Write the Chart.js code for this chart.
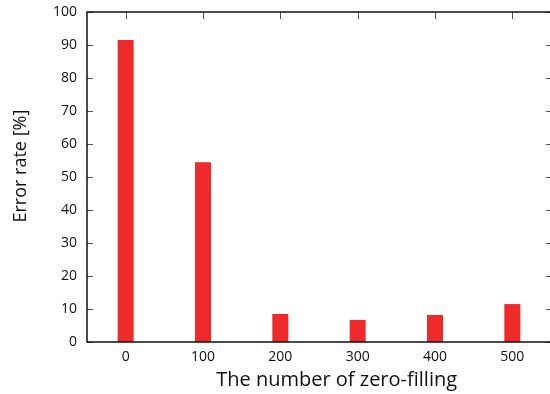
<!DOCTYPE html>
<html>
<head>
<meta charset="utf-8">
<script src="https://cdn.jsdelivr.net/npm/chart.js@4/dist/chart.umd.min.js"></script>
<style>
  html, body { margin: 0; padding: 0; background: #fff; overflow: hidden; width: 550px; height: 394px; }
  #wrap { width: 552px; height: 394px; }
</style>
</head>
<body>
<div id="wrap"><canvas id="chart"></canvas></div>
<script>
  // data
  const zeroFilling = ["0", "100", "200", "300", "400", "500"];
  const errorRate = [91.5, 54.5, 8.5, 6.7, 8.2, 11.5];
  const yMin = 0, yMax = 100, yStep = 10;
  const xTitle = "The number of zero-filling";
  const yTitle = "Error rate [%]";

  const FONT = '"Open Sans", "DejaVu Sans", sans-serif';

  // gnuplot-like frame with inward ticks and axis titles
  const framePlugin = {
    id: "frame",
    afterDraw(chart) {
      const { ctx, chartArea: a, scales: { x, y } } = chart;
      ctx.save();

      // small ticks
      ctx.strokeStyle = "#555";
      ctx.lineWidth = 1;
      ctx.beginPath();
      y.ticks.forEach((t) => {
        const py = Math.round(y.getPixelForValue(t.value)) + 0.5;
        ctx.moveTo(a.left, py);
        ctx.lineTo(a.left + 6, py);
        ctx.moveTo(a.right - 5, py);
        ctx.lineTo(a.right, py);
      });
      x.ticks.forEach((t, i) => {
        const px = Math.round(x.getPixelForTick(i)) + 0.5;
        ctx.moveTo(px, a.top);
        ctx.lineTo(px, a.top + 7);
      });
      ctx.stroke();

      // border
      ctx.strokeStyle = "#111";
      ctx.lineWidth = 1.5;
      ctx.beginPath();
      ctx.moveTo(a.left, a.top);
      ctx.lineTo(a.right, a.top);
      ctx.lineTo(a.right, a.bottom);
      ctx.lineTo(a.left, a.bottom);
      ctx.closePath();
      ctx.stroke();

      // axis titles
      ctx.fillStyle = "#111";
      ctx.textAlign = "center";
      ctx.textBaseline = "middle";
      ctx.font = "20px " + FONT;
      ctx.fillText(xTitle, a.left + (a.right - a.left) * 0.538, a.bottom + 38);

      ctx.translate(21, a.top + (a.bottom - a.top) * 0.467);
      ctx.rotate(-Math.PI / 2);
      ctx.font = "18px " + FONT;
      ctx.fillText(yTitle, 0, 0);
      ctx.restore();
    }
  };

  new Chart(document.getElementById("chart"), {
    type: "bar",
    data: {
      labels: zeroFilling,
      datasets: [
        {
          label: "Error rate",
          data: errorRate,
          backgroundColor: "rgb(238, 42, 42)",
          borderWidth: 0,
          barPercentage: 0.207,
          categoryPercentage: 1.0,
        },
      ],
    },
    options: {
      responsive: true,
      maintainAspectRatio: false,
      animation: false,
      layout: { padding: { top: 12, right: 1, left: 0, bottom: 0 } },
      plugins: {
        legend: { display: false },
        tooltip: { enabled: false },
      },
      scales: {
        x: {
          grid: { display: false, drawTicks: false },
          border: { display: false },
          ticks: {
            color: "#111",
            padding: 7,
            font: { family: FONT, size: 14 },
            maxRotation: 0,
          },
          afterFit: (scale) => {
            scale.height = 52;
            scale.paddingLeft = 0;
            scale.paddingRight = 0;
          },
        },
        y: {
          min: yMin,
          max: yMax,
          grid: { display: false, drawTicks: false },
          border: { display: false },
          ticks: {
            stepSize: yStep,
            color: "#111",
            padding: 10,
            font: { family: FONT, size: 14 },
          },
          afterFit: (scale) => {
            scale.width = 87;
            scale.paddingTop = 0;
            scale.paddingBottom = 0;
          },
        },
      },
    },
    plugins: [framePlugin],
  });
</script>
</body>
</html>
